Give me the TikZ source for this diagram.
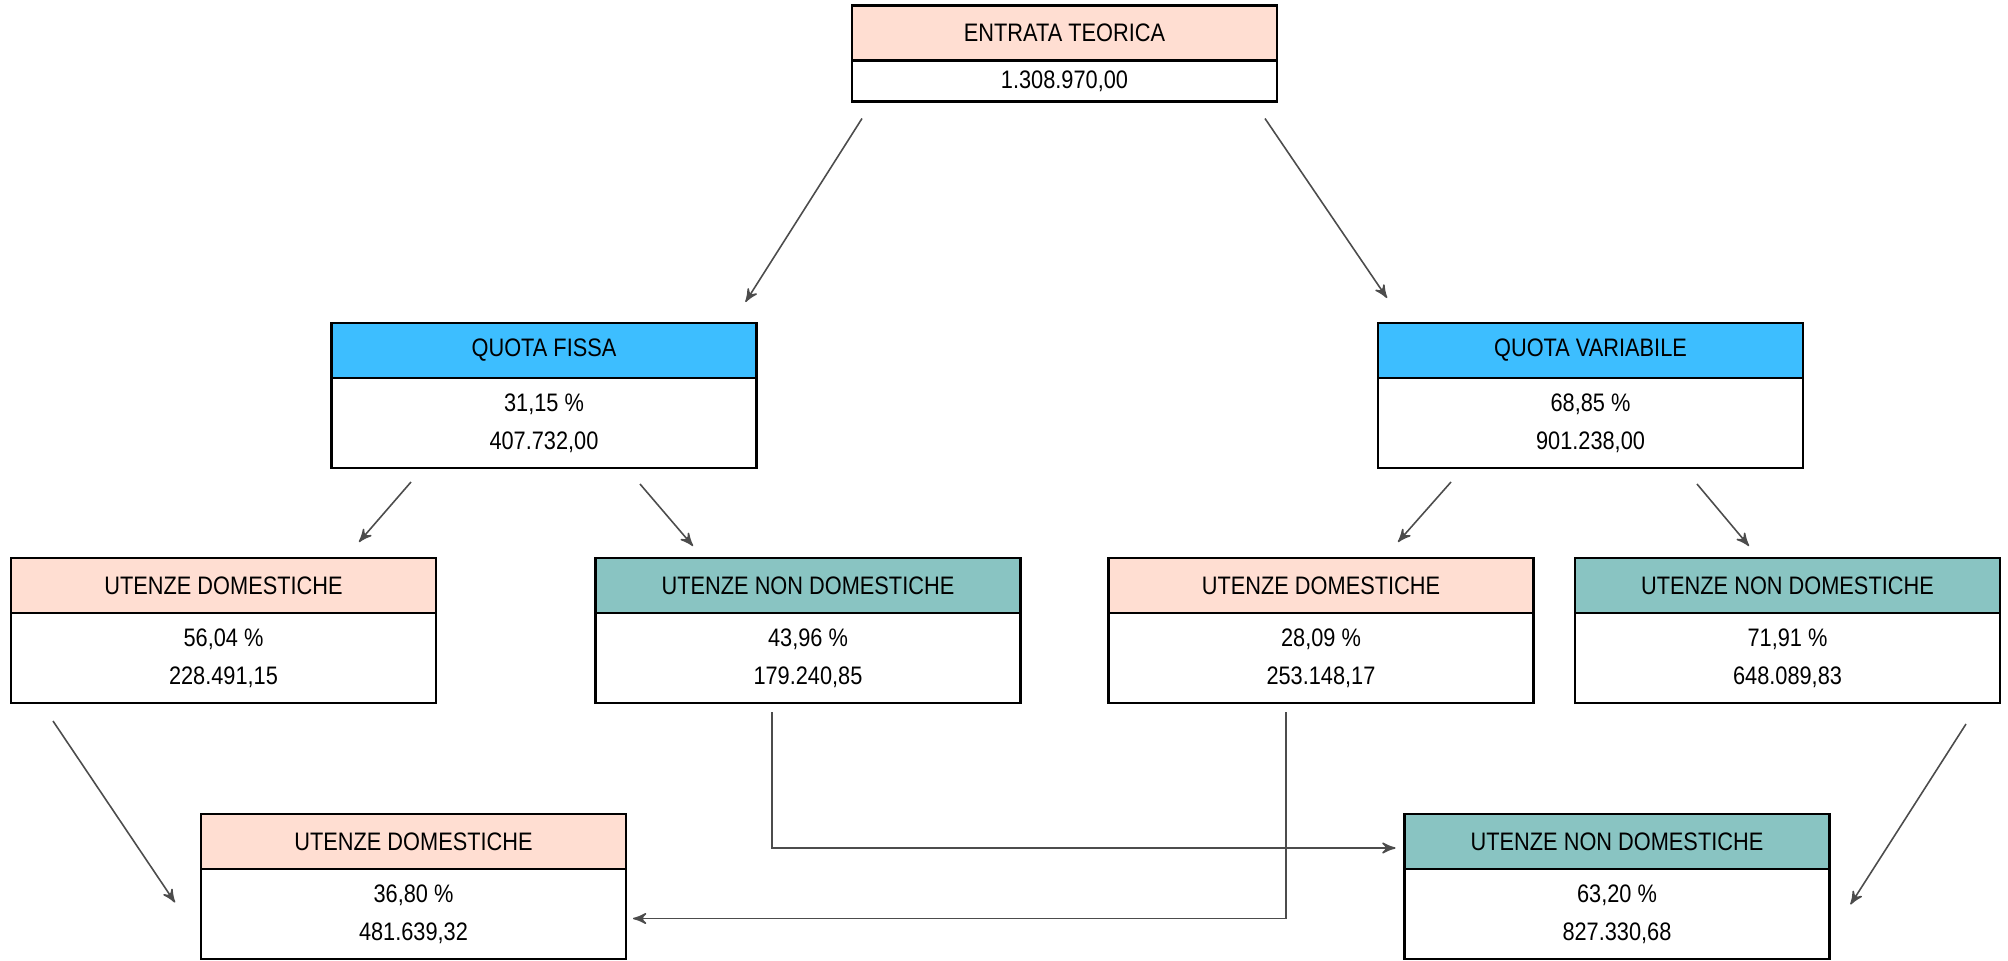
\documentclass[tikz,border=0pt]{standalone}
\usepackage{fontspec}
\setmainfont{Liberation Sans}[FakeStretch=0.86]
\usepackage{xcolor}
\usetikzlibrary{arrows, positioning}

\definecolor{rosa}{RGB}{255,222,210}
\definecolor{azzurro}{RGB}{61,190,255}
\definecolor{verde}{RGB}{137,196,194}

\begin{document}
\begin{tikzpicture}[>=stealth',
			freccia/.style={->, draw=black!70, line width=0.45pt},
			testa/.style={draw=black, line width=0.8pt, outer sep=0pt, minimum width=4.25cm, minimum height=0.55cm, inner sep=0pt, font=\fontsize{7.2}{10.8}\selectfont},
			corpo/.style={testa, fill=white, align=center, minimum height=0.9cm}]
			
			\useasboundingbox (0,0) rectangle (20.08,9.60);
			
			% livello 1
			\node[testa, fill=rosa] (et) at (10.645,9.27) {ENTRATA TEORICA};
			\node[corpo, minimum height=0.41cm, below=0pt of et] (etv) {1.308.970,00};
			
			% livello 2
			\node[testa, fill=azzurro] (qf) at (5.44,6.095) {QUOTA FISSA};
			\node[corpo, below=0pt of qf] (qfv) {31,15 \%\\407.732,00};
			\node[testa, fill=azzurro] (qv) at (15.905,6.095) {QUOTA VARIABILE};
			\node[corpo, below=0pt of qv] (qvv) {68,85 \%\\901.238,00};
			
			% livello 3
			\node[testa, fill=rosa] (ud1) at (2.235,3.745) {UTENZE DOMESTICHE};
			\node[corpo, below=0pt of ud1] (ud1v) {56,04 \%\\228.491,15};
			\node[testa, fill=verde] (und1) at (8.08,3.745) {UTENZE NON DOMESTICHE};
			\node[corpo, below=0pt of und1] (und1v) {43,96 \%\\179.240,85};
			\node[testa, fill=rosa] (ud2) at (13.21,3.745) {UTENZE DOMESTICHE};
			\node[corpo, below=0pt of ud2] (ud2v) {28,09 \%\\253.148,17};
			\node[testa, fill=verde] (und2) at (17.875,3.745) {UTENZE NON DOMESTICHE};
			\node[corpo, below=0pt of und2] (und2v) {71,91 \%\\648.089,83};
			
			% totali
			\node[testa, fill=rosa] (udt) at (4.135,1.185) {UTENZE DOMESTICHE};
			\node[corpo, below=0pt of udt] (udtv) {36,80 \%\\481.639,32};
			\node[testa, fill=verde] (undt) at (16.17,1.185) {UTENZE NON DOMESTICHE};
			\node[corpo, below=0pt of undt] (undtv) {63,20 \%\\827.330,68};
			
			% frecce
			\draw[freccia] ([shift={(0.10,-0.17)}]etv.south west) -- ([shift={(-0.11,0.21)}]qf.north east);
			\draw[freccia] ([shift={(-0.12,-0.17)}]etv.south east) -- ([shift={(0.09,0.25)}]qv.north west);
			\draw[freccia] ([shift={(-1.33,-0.14)}]qfv.south) -- ([shift={(1.355,0.16)}]ud1.north);
			\draw[freccia] ([shift={(0.96,-0.16)}]qfv.south) -- ([shift={(-1.15,0.12)}]und1.north);
			\draw[freccia] ([shift={(-1.395,-0.14)}]qvv.south) -- ([shift={(0.77,0.16)}]ud2.north);
			\draw[freccia] ([shift={(1.065,-0.16)}]qvv.south) -- ([shift={(-0.385,0.12)}]und2.north);
			\draw[freccia] ([shift={(0.42,-0.18)}]ud1v.south west) -- ([shift={(-0.26,0.115)}]udtv.west);
			\draw[freccia] ([shift={(-0.36,-0.09)}]und1v.south) |- ([shift={(-0.09,-0.065)}]undt.west);
			\draw[freccia] ([shift={(-0.35,-0.09)}]ud2v.south) |- ([shift={(0.07,-0.045)}]udtv.east);
			\draw[freccia] ([shift={(-0.34,-0.21)}]und2v.south east) -- ([shift={(0.21,0.095)}]undtv.east);
		\end{tikzpicture}
\end{document}
